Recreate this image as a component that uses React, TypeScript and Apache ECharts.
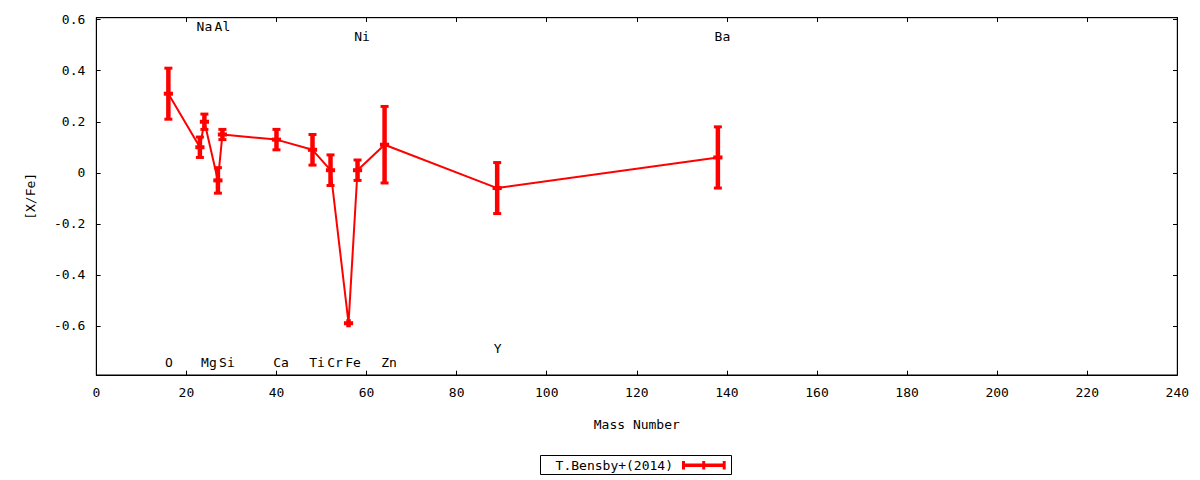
import React, { useEffect, useRef } from "react";
import * as echarts from "echarts";

// ---- data ----
const elements = ["O", "Na", "Mg", "Al", "Si", "Ca", "Ti", "Cr", "Fe", "Ni", "Zn", "Y", "Ba"];
const masses = [16, 23, 24, 27, 28, 40, 48, 52, 56, 58, 64, 89, 138];
const abundances = [0.31, 0.1, 0.2, -0.03, 0.15, 0.13, 0.09, 0.01, -0.59, 0.01, 0.11, -0.06, 0.06];
const errors = [0.1, 0.04, 0.03, 0.05, 0.02, 0.04, 0.06, 0.06, 0.007, 0.04, 0.15, 0.1, 0.12];
const labelYs = [-0.745, 0.572, -0.745, 0.572, -0.745, -0.745, -0.745, -0.745, -0.745, 0.533, -0.745, -0.69, 0.533];
const yTickValues = [-0.6, -0.4, -0.2, 0, 0.2, 0.4, 0.6];
const seriesName = "T.Bensby+(2014)";

const FONT = '"DejaVu Sans Mono", monospace';
const RED = "#ff0000";

export default function App() {
  const ref = useRef<HTMLDivElement>(null);

  useEffect(() => {
    if (!ref.current) return;
    const chart = echarts.init(ref.current, null, { renderer: "svg" });

    const lineData = masses.map((m, i) => [m, abundances[i]]);
    const errData = masses.map((m, i) => [m, abundances[i], errors[i]]);
    const labelData = masses.map((m, i) => [m, labelYs[i]]);

    const xMin = 0, xMax = 240;
    const yMin = -0.793, yMax = 0.608;

    const textStyle = { fontFamily: FONT, fontSize: 13, color: "#000" };
    const axisLine = { show: true, onZero: false, lineStyle: { color: "#000", width: 1 } };
    const tick = { show: true, inside: true, length: 4.3, lineStyle: { color: "#000" } };

    const option: any = {
      animation: false,
      textStyle: { fontFamily: FONT },
      grid: {
        left: 96.3,
        right: 22.7,
        top: 17.7,
        bottom: 105,
        show: true,
        borderColor: "#000",
        borderWidth: 1,
        backgroundColor: "transparent",
      },
      xAxis: [
        {
          type: "value",
          min: xMin,
          max: xMax,
          interval: 20,
          position: "bottom",
          name: "Mass Number",
          nameLocation: "middle",
          nameGap: 43,
          nameTextStyle: textStyle,
          axisLine,
          axisTick: tick,
          axisLabel: { ...textStyle, margin: 11, showMinLabel: true, showMaxLabel: true },
          splitLine: { show: false },
        },
        {
          type: "value",
          min: xMin,
          max: xMax,
          interval: 20,
          position: "top",
          axisLine,
          axisTick: tick,
          axisLabel: { show: false },
          splitLine: { show: false },
        },
      ],
      yAxis: [
        {
          type: "value",
          min: yMin,
          max: yMax,
          position: "left",
          name: "[X/Fe]",
          nameLocation: "middle",
          nameGap: 59,
          nameTextStyle: textStyle,
          axisLine,
          axisTick: { ...tick, customValues: yTickValues },
          axisLabel: {
            ...textStyle,
            margin: 11,
            customValues: yTickValues,
            formatter: (v: number) => String(Math.round(v * 10) / 10),
          },
          splitLine: { show: false },
        },
        {
          type: "value",
          min: yMin,
          max: yMax,
          position: "right",
          axisLine,
          axisTick: { ...tick, customValues: yTickValues },
          axisLabel: { show: false, customValues: yTickValues },
          splitLine: { show: false },
        },
      ],
      series: [
        {
          name: seriesName,
          type: "line",
          xAxisIndex: 0,
          yAxisIndex: 0,
          data: lineData,
          symbol: "none",
          lineStyle: { color: RED, width: 2 },
          z: 2,
        },
        {
          name: seriesName + " err",
          type: "custom",
          xAxisIndex: 0,
          yAxisIndex: 0,
          data: errData,
          encode: { x: 0, y: 1 },
          z: 3,
          renderItem: (params: any, api: any) => {
            const x = api.value(0);
            const y = api.value(1);
            const e = api.value(2);
            const c = api.coord([x, y]);
            const hi = api.coord([x, y + e]);
            const lo = api.coord([x, y - e]);
            const w = 4;
            const wc = 4.6;
            const capStyle = { stroke: RED, lineWidth: 3 };
            const span = Math.abs(lo[1] - hi[1]);
            const children: any[] = [
              {
                type: "line",
                shape: { x1: c[0], y1: hi[1], x2: c[0], y2: lo[1] },
                style: { stroke: RED, lineWidth: 4.5, lineCap: span < 6 ? "square" : "butt" },
              },
            ];
            if (span >= 6) {
              children.push(
                { type: "line", shape: { x1: c[0] - w, y1: hi[1], x2: c[0] + w, y2: hi[1] }, style: capStyle },
                { type: "line", shape: { x1: c[0] - w, y1: lo[1], x2: c[0] + w, y2: lo[1] }, style: capStyle }
              );
            }
            children.push({
              type: "line",
              shape: { x1: c[0] - wc, y1: c[1], x2: c[0] + wc, y2: c[1] },
              style: { stroke: RED, lineWidth: 4 },
            });
            return { type: "group", children };
          },
        },
        {
          name: "element labels",
          type: "custom",
          xAxisIndex: 0,
          yAxisIndex: 0,
          data: labelData,
          encode: { x: 0, y: 1 },
          silent: true,
          z: 4,
          renderItem: (params: any, api: any) => {
            const c = api.coord([api.value(0), api.value(1)]);
            return {
              type: "text",
              x: c[0] - 3.3,
              y: c[1],
              style: {
                text: elements[params.dataIndex],
                textAlign: "left",
                textVerticalAlign: "middle",
                font: `13px ${FONT}`,
                fill: "#000",
              },
            };
          },
        },
      ],
      graphic: [
        {
          type: "rect",
          shape: { x: 540.5, y: 455.5, width: 191, height: 19 },
          style: { fill: "#fff", stroke: "#000", lineWidth: 1 },
        },
        {
          type: "text",
          x: 673,
          y: 465,
          style: {
            text: seriesName,
            textAlign: "right",
            textVerticalAlign: "middle",
            font: `13px ${FONT}`,
            fill: "#000",
          },
        },
        { type: "line", shape: { x1: 683, y1: 465.3, x2: 725, y2: 465.3 }, style: { stroke: RED, lineWidth: 3.5 } },
        { type: "line", shape: { x1: 683.5, y1: 461, x2: 683.5, y2: 469.5 }, style: { stroke: RED, lineWidth: 3 } },
        { type: "line", shape: { x1: 703.7, y1: 461, x2: 703.7, y2: 469.5 }, style: { stroke: RED, lineWidth: 3 } },
        { type: "line", shape: { x1: 724.2, y1: 461, x2: 724.2, y2: 469.5 }, style: { stroke: RED, lineWidth: 3 } },
      ],
    };

    chart.setOption(option);
    return () => chart.dispose();
  }, []);

  return <div ref={ref} style={{ width: 1200, height: 480, position: "absolute", left: 0, top: 0 }} />;
}
